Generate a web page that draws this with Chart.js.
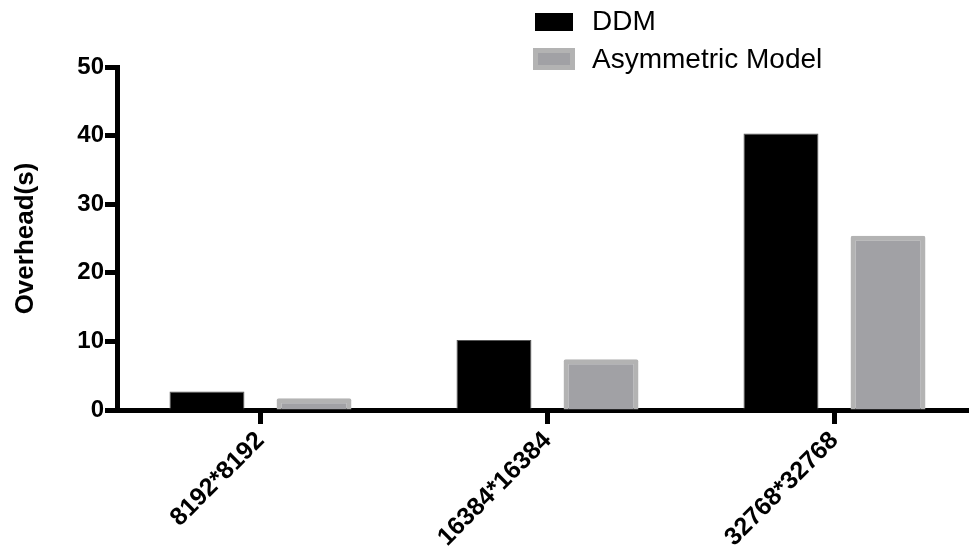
<!DOCTYPE html>
<html>
<head>
<meta charset="utf-8">
<script src="https://cdn.jsdelivr.net/npm/chart.js@4/dist/chart.umd.min.js"></script>
<style>
  html, body { margin: 0; padding: 0; background: #fff; overflow: hidden; }
  #wrap { width: 969px; height: 550px; overflow: hidden; position: relative; }
  canvas { display: block; }
</style>
</head>
<body>
<div id="wrap"><canvas id="c" width="978" height="550"></canvas></div>
<script>
const categories = ['8192*8192', '16384*16384', '32768*32768'];
const ddmValues = [2.7, 10.2, 40.3];
const asymValues = [1.7, 7.4, 25.4];
const seriesLabels = ['DDM', 'Asymmetric Model'];
const yTitle = 'Overhead(s)';

const FONT = '"Liberation Sans", Arial, Helvetica, sans-serif';

const legendPlugin = {
  id: 'customLegend',
  afterDraw(chart) {
    const ctx = chart.ctx;
    const ds = chart.data.datasets;
    const rows = [
      { y: 22, box: [535, 13, 38, 18] },
      { y: 60, box: [533, 48, 42, 22] }
    ];
    ctx.save();
    ds.forEach((d, i) => {
      const r = rows[i];
      const [bx, by, bw, bh] = r.box;
      if (d.borderWidth > 1) {
        ctx.fillStyle = d.borderColor;
        ctx.fillRect(bx, by, bw, bh);
        ctx.fillStyle = d.backgroundColor;
        ctx.fillRect(bx + 5, by + 5, bw - 10, bh - 10);
      } else {
        ctx.fillStyle = d.backgroundColor;
        ctx.fillRect(bx, by, bw, bh);
      }
      ctx.fillStyle = '#000';
      ctx.font = '28px ' + FONT;
      ctx.textAlign = 'left';
      ctx.textBaseline = 'middle';
      ctx.fillText(d.label, 592, r.y);
    });
    ctx.restore();
  }
};

new Chart(document.getElementById('c'), {
  type: 'bar',
  data: {
    labels: categories,
    datasets: [
      {
        label: seriesLabels[0],
        data: ddmValues,
        backgroundColor: '#000000',
        borderColor: '#555555',
        borderWidth: 1,
        categoryPercentage: 0.746,
        barPercentage: 0.70
      },
      {
        label: seriesLabels[1],
        data: asymValues,
        backgroundColor: '#a1a1a5',
        borderColor: '#b3b3b3',
        borderWidth: 5,
        borderRadius: 2,
        borderSkipped: 'bottom',
        categoryPercentage: 0.746,
        barPercentage: 0.70
      }
    ]
  },
  options: {
    responsive: false,
    animation: false,
    devicePixelRatio: 1,
    layout: { padding: { top: 67, right: 0, bottom: 0, left: 0 } },
    plugins: {
      legend: { display: false },
      tooltip: { enabled: false }
    },
    scales: {
      x: {
        offset: true,
        grid: {
          offset: false,
          drawOnChartArea: false,
          drawTicks: true,
          tickLength: 14,
          tickWidth: 5,
          tickColor: '#000'
        },
        border: { display: true, color: '#000', width: 5 },
        ticks: {
          color: '#000',
          font: { family: FONT, size: 25, weight: 'bold' },
          minRotation: 45,
          maxRotation: 45,
          padding: 2,
          autoSkip: false
        },
        afterFit(scale) { scale.height = 140; }
      },
      y: {
        min: 0,
        max: 50,
        ticks: {
          stepSize: 10,
          color: '#000',
          font: { family: FONT, size: 24, weight: 'bold' },
          padding: 1
        },
        grid: {
          drawOnChartArea: false,
          drawTicks: true,
          tickLength: 12,
          tickWidth: 5,
          tickColor: '#000'
        },
        border: { display: true, color: '#000', width: 5 },
        title: {
          display: true,
          text: yTitle,
          color: '#000',
          font: { family: FONT, size: 26, weight: 'bold' },
          padding: { top: 10, bottom: 0 }
        },
        afterFit(scale) { scale.width = 117; }
      }
    }
  },
  plugins: [legendPlugin]
});
</script>
</body>
</html>
